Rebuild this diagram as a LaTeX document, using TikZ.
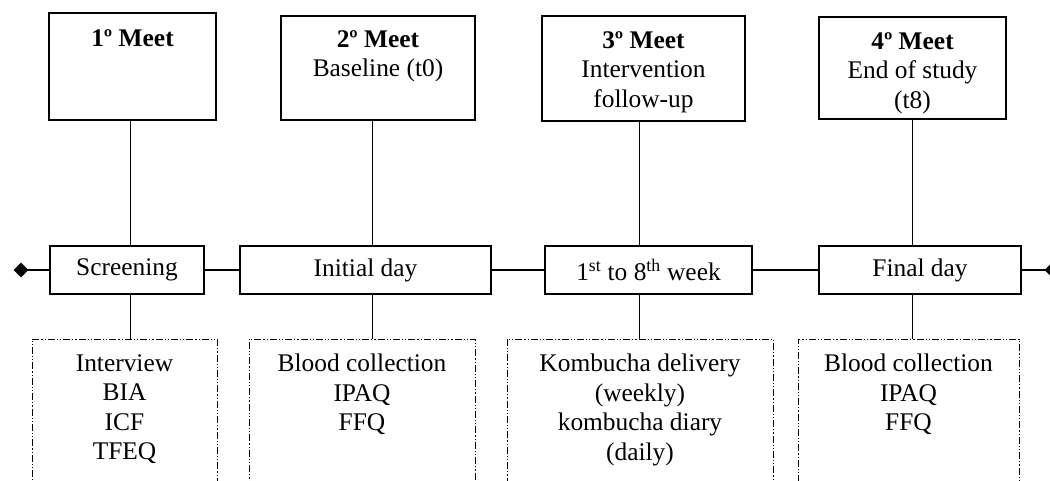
\documentclass[tikz,border=0pt]{standalone}
\usepackage{fontspec}
\setmainfont{Liberation Serif}
\usetikzlibrary{shapes.geometric}
\begin{document}
\begin{tikzpicture}[x=1pt,y=-1pt,
  every node/.style={font=\fontsize{25.4}{29.5}\selectfont},
  meetbox/.style={draw,line width=1.3pt,rectangle,inner sep=0pt},
  daybox/.style={draw,line width=1.3pt,rectangle,inner sep=0pt,minimum height=48pt},
  taskbox/.style={draw,line width=1pt,rectangle,inner sep=0pt,minimum height=161pt,
    dash pattern=on 7pt off 2pt on 1.2pt off 2pt on 1.2pt off 2pt},
  txt/.style={anchor=north,inner sep=0pt,align=center},
  conn/.style={line width=1pt},
  tline/.style={line width=2.4pt},
  endmark/.style={diamond,fill=black,inner sep=0pt,minimum width=15pt,minimum height=15pt}]
\useasboundingbox (0,0) rectangle (1050,481);
\clip (0,0) rectangle (1050,481);
% top boxes
\node[meetbox,minimum width=167pt,minimum height=107pt] (m1) at (132.5,66.5) {};
\node[meetbox,minimum width=194pt,minimum height=104pt] (m2) at (378,68) {};
\node[meetbox,minimum width=203pt,minimum height=105pt] (m3) at (643.5,68.5) {};
\node[meetbox,minimum width=187pt,minimum height=102pt] (m4) at (912.5,68) {};
\node[txt] (m1t) at (132.5,29) {\textbf{1º Meet}};
\node[txt] (m2t) at (378,30) {\textbf{2º Meet}\\Baseline (t0)};
\node[txt] (m3t) at (643.5,31) {\textbf{3º Meet}\\Intervention\\follow-up};
\node[txt] (m4t) at (912.5,32) {\textbf{4º Meet}\\End of study\\(t8)};
% timeline boxes
\node[daybox,minimum width=154pt] (t1) at (127,270) {Screening};
\node[daybox,minimum width=251pt] (t2) at (365.5,270) {Initial day};
\node[daybox,minimum width=207pt] (t3) at (648.5,270) {1\textsuperscript{st} to 8\textsuperscript{th} week};
\node[daybox,minimum width=202pt] (t4) at (920,270) {Final day};
% dashed boxes
\node[taskbox,minimum width=185pt] (d1) at (124.5,419.5) {};
\node[taskbox,minimum width=226pt] (d2) at (362,419.5) {};
\node[taskbox,minimum width=266pt] (d3) at (640,419.5) {};
\node[taskbox,minimum width=221pt] (d4) at (908.5,419.5) {};
\node[txt] (d1t) at (124.5,354) {Interview\\BIA\\ICF\\TFEQ};
\node[txt] (d2t) at (362,354) {Blood collection\\IPAQ\\FFQ};
\node[txt] (d3t) at (640,354) {Kombucha delivery\\(weekly)\\kombucha diary\\(daily)};
\node[txt] (d4t) at (908.5,354) {Blood collection\\IPAQ\\FFQ};
% ends
\node[endmark] (L) at (21,270) {};
\node[endmark] (R) at (1052,270) {};
% line positions
\coordinate (l1) at (130.7,0);
\coordinate (l2) at (372,0);
\coordinate (l3) at (639,0);
\coordinate (l4) at (912,0);
% timeline
\draw[tline] (L.center) -- (t1.west);
\draw[tline] (t1.east) -- (t2.west);
\draw[tline] (t2.east) -- (t3.west);
\draw[tline] (t3.east) -- (t4.west);
\draw[tline] (t4.east) -- (R.center);
% vertical connectors
\draw[conn] (m1.south -| l1) -- (t1.north -| l1);
\draw[conn] (m2.south -| l2) -- (t2.north -| l2);
\draw[conn] (m3.south -| l3) -- (t3.north -| l3);
\draw[conn] (m4.south -| l4) -- (t4.north -| l4);
\draw[conn] (t1.south -| l1) -- (d1.north -| l1);
\draw[conn] (t2.south -| l2) -- (d2.north -| l2);
\draw[conn] (t3.south -| l3) -- (d3.north -| l3);
\draw[conn] (t4.south -| l4) -- (d4.north -| l4);
\end{tikzpicture}
\end{document}
